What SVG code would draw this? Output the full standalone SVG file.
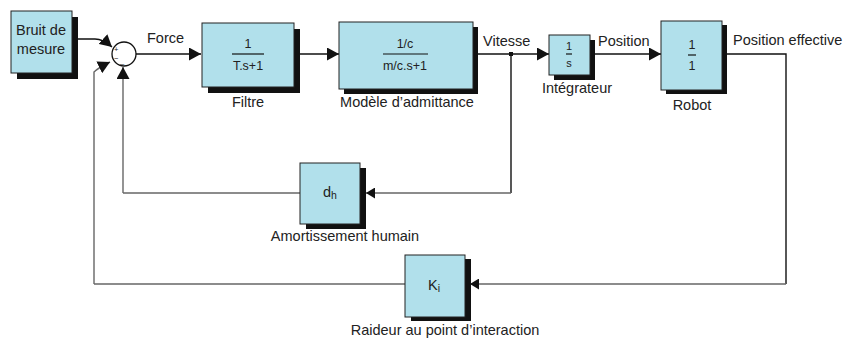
<svg xmlns="http://www.w3.org/2000/svg" width="845" height="341" viewBox="0 0 845 341">
<defs>
<style>
text{font-family:"Liberation Sans",Arial,sans-serif;fill:#222;}
.lbl{font-size:14.5px;}
.frac{font-size:12.5px;text-anchor:middle;}
.c{text-anchor:middle;}
.sg{font-size:7.5px;}
.box{fill:#b1e0eb;stroke:#222;stroke-width:1;}
.sh{fill:#111;}
.ln{fill:none;stroke:#111;stroke-width:1.4;}
.fb{fill:none;stroke:#666;stroke-width:1.4;}
.bar{stroke:#111;stroke-width:1.2;}
</style>
<marker id="ar" markerUnits="userSpaceOnUse" markerWidth="13" markerHeight="13" refX="12" refY="6.5" orient="auto">
<path d="M0,0 L12,6.5 L0,13 Z" fill="#111"/>
</marker>
<marker id="ars" markerUnits="userSpaceOnUse" markerWidth="10" markerHeight="11" refX="9" refY="5.5" orient="auto">
<path d="M0,0 L9,5.5 L0,11 Z" fill="#111"/>
</marker>
</defs>

<g id="connectors">
<path class="ln" d="M72,39 L95,39 Q103,39 112,47" marker-end="url(#ar)"/>
<path class="fb" d="M94,284 L94,72 Q98,68 110,62" marker-end="url(#ar)"/>
<path class="fb" d="M123,193 L123,67" marker-end="url(#ar)"/>
<path class="ln" d="M136,54 L201,54" marker-end="url(#ar)"/>
<path class="ln" d="M300,54 L339,54" marker-end="url(#ar)"/>
<path class="ln" d="M477,54 L549,54" marker-end="url(#ar)"/>
<path class="ln" d="M595,54 L661,54" marker-end="url(#ar)"/>
<path class="ln" d="M727,54 L786,54 L786,284"/>
<path class="fb" d="M786,284 L470,284" marker-end="url(#ars)"/>
<path class="ln" d="M511,54 L511,193"/>
<path class="fb" d="M511,193 L366,193" marker-end="url(#ars)"/>
<path class="fb" d="M300,193 L123,193"/>
<path class="fb" d="M405,284 L94,284"/>
<rect x="509" y="52" width="4" height="4" fill="#111"/>
</g>

<g id="bruit">
<rect class="sh" x="17" y="17" width="61" height="62"/>
<rect class="box" x="11" y="11" width="61" height="62"/>
<text class="lbl c" x="41" y="35">Bruit de</text>
<text class="lbl c" x="41" y="54">mesure</text>
</g>

<g id="somme">
<circle cx="124" cy="54" r="12" fill="#fff" stroke="#111" stroke-width="1.3"/>
<text class="sg" x="114" y="52">+</text>
<text class="sg" x="114" y="60.5">−</text>
<text class="sg" x="120" y="62.5">_</text>
</g>

<text class="lbl" x="147" y="43">Force</text>

<g id="filtre">
<rect class="sh" x="208" y="29" width="92" height="64"/>
<rect class="box" x="202" y="23" width="92" height="64"/>
<text class="frac" x="248" y="48">1</text>
<line class="bar" x1="232" y1="54" x2="264" y2="54"/>
<text class="frac" x="248" y="70">T.s+1</text>
<text class="lbl c" x="248" y="107">Filtre</text>
</g>

<g id="admittance">
<rect class="sh" x="344" y="27" width="134" height="67"/>
<rect class="box" x="339" y="22" width="134" height="67"/>
<text class="frac" x="405" y="48">1/c</text>
<line class="bar" x1="383" y1="54" x2="428" y2="54"/>
<text class="frac" x="405" y="70">m/c.s+1</text>
<text class="lbl c" x="407" y="107">Modèle d’admittance</text>
</g>

<text class="lbl" x="483" y="46">Vitesse</text>

<g id="integrateur">
<rect class="sh" x="554" y="40" width="41" height="40"/>
<rect class="box" x="549" y="35" width="41" height="40"/>
<text class="frac" x="569" y="50" style="font-size:11px">1</text>
<line class="bar" x1="566" y1="54" x2="572" y2="54"/>
<text class="frac" x="569" y="67" style="font-size:11px">s</text>
<text class="lbl c" x="577" y="93">Intégrateur</text>
</g>

<text class="lbl" x="598" y="46">Position</text>

<g id="robot">
<rect class="sh" x="666" y="25" width="61" height="69"/>
<rect class="box" x="661" y="21" width="61" height="69"/>
<text class="frac" x="692" y="49">1</text>
<line class="bar" x1="688" y1="55" x2="696" y2="55"/>
<text class="frac" x="692" y="70">1</text>
<text class="lbl c" x="692" y="110">Robot</text>
</g>

<text class="lbl" x="733" y="45">Position effective</text>

<g id="amortissement">
<rect class="sh" x="306" y="168" width="60" height="61"/>
<rect class="box" x="300" y="163" width="60" height="61"/>
<text class="lbl" x="323" y="197">d<tspan style="font-size:10.5px" dy="2">h</tspan></text>
<text class="lbl c" x="345" y="241">Amortissement humain</text>
</g>

<g id="raideur">
<rect class="sh" x="411" y="259" width="60" height="62"/>
<rect class="box" x="405" y="255" width="60" height="62"/>
<text class="lbl" x="428" y="290">K<tspan style="font-size:10.5px" dy="2">i</tspan></text>
<text class="lbl c" x="445" y="335">Raideur au point d’interaction</text>
</g>
</svg>
